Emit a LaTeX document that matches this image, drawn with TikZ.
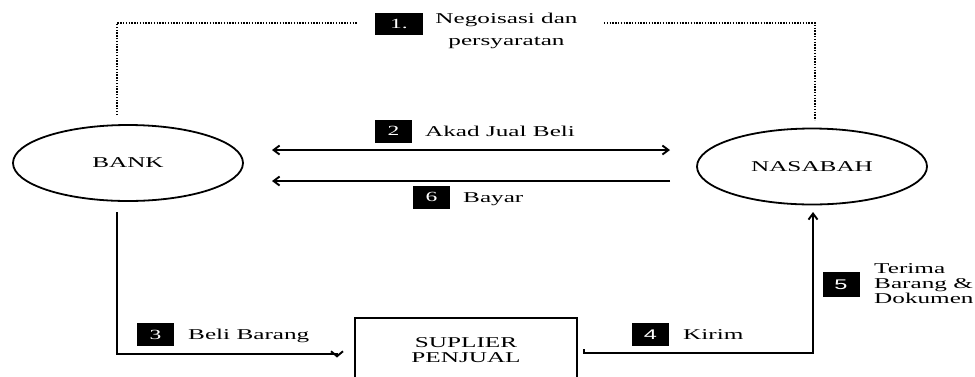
\documentclass[tikz,border=0pt]{standalone}
\usepackage{fontspec}
\setmainfont{Liberation Serif}
\newfontfamily\numsans{Liberation Sans}
\usepackage{graphicx}
\usetikzlibrary{arrows.meta,shapes.geometric}
\newcommand{\hstretch}[1]{\scalebox{1.68}[1]{#1}}
\newcommand{\stackt}[2]{\hstretch{\begin{tabular}{@{}#1@{}}#2\end{tabular}}}
\tikzset{
  mytip/.tip={Straight Barb[length=6pt,width=9pt]},
  downtip/.tip={Straight Barb[length=5pt,width=12pt]}
}
\begin{document}
\begin{tikzpicture}[x=1pt,y=-1pt,
  ent/.style={ellipse, draw, line width=1.8pt, minimum width=230pt, minimum height=76pt, inner sep=0pt, font=\fontsize{15}{18}\selectfont},
  supbox/.style={rectangle, draw, line width=2.2pt, minimum width=222pt, minimum height=67pt, inner sep=0pt, font=\fontsize{15}{15}\selectfont},
  numbox/.style={rectangle, fill=black, text=white, minimum width=37pt, minimum height=23pt, inner sep=0pt, font=\fontsize{14}{15}\selectfont},
  lbl/.style={inner sep=0pt, anchor=base west, font=\fontsize{15}{18}\selectfont},
  flow/.style={line width=1.9pt, -mytip},
  dotline/.style={line width=2.4pt, dash pattern=on 1.4pt off 1.4pt}
]
\useasboundingbox (0,0) rectangle (975,376);
% entities
\node[ent] (bank) at (128,163) {\hstretch{BANK}};
\node[ent] (nas) at (812,166.5) {\hstretch{NASABAH}};
\node[supbox] (sup) at (466,351.5) {\stackt{c}{SUPLIER\\PENJUAL}};
% number boxes
\node[numbox, minimum width=48pt, minimum height=22pt] (n1) at (399,24) {\hstretch{1.}};
\node[numbox] (n2) at (393.5,131) {\hstretch{2}};
\node[numbox] (n6) at (431.5,197) {\hstretch{6}};
\node[numbox] (n3) at (155.5,334.5) {\hstretch{3}};
\node[numbox] (n4) at (650.5,334.5) {\hstretch{\numsans 4}};
\node[numbox, minimum height=25pt] (n5) at (841,284.5) {\hstretch{\numsans 5}};
% labels
\node[lbl, anchor=center, font=\fontsize{15}{22}\selectfont] (t1) at (506.5,29.6) {\stackt{c}{Negoisasi dan\\persyaratan}};
\node[lbl] (t2) at (425,136) {\hstretch{Akad Jual Beli}};
\node[lbl] (t6) at (463,202) {\hstretch{Bayar}};
\node[lbl] (t3) at (188,339) {\hstretch{Beli Barang}};
\node[lbl] (t4) at (683,339) {\hstretch{Kirim}};
\node[lbl, anchor=west, font=\fontsize{15}{15}\selectfont] (t5) at (874,285) {\stackt{l}{Terima\\Barang \&\\Dokumen}};
% connector end points
\coordinate (d1) at (117,115);
\coordinate (d2) at (357,23);
\coordinate (d3) at (604,23);
\coordinate (d4) at (815,120);
\coordinate (a2l) at (272,150);
\coordinate (a2r) at (670,150);
\coordinate (a6r) at (670,181);
\coordinate (a6l) at (272,181);
\coordinate (a3s) at (117,212);
\coordinate (a3c) at (117,354);
\coordinate (a3m) at (337,354);
\coordinate (a3e) at (337,357.5);
\coordinate (a4s) at (584,349);
\coordinate (a4c) at (584,353);
\coordinate (a4e) at (813,212);
% connectors
\draw[dotline] (d1) |- (d2);
\draw[dotline] (d3) -| (d4);
\draw[line width=1.9pt, mytip-mytip] (a2l) -- (a2r);
\draw[flow] (a6r) -- (a6l);
\draw[line width=1.9pt, -downtip] (a3s) -- (a3c) -- (a3m) -- (a3e);
\draw[flow] (a4s) -- (a4c) -| (a4e);
\end{tikzpicture}
\end{document}
